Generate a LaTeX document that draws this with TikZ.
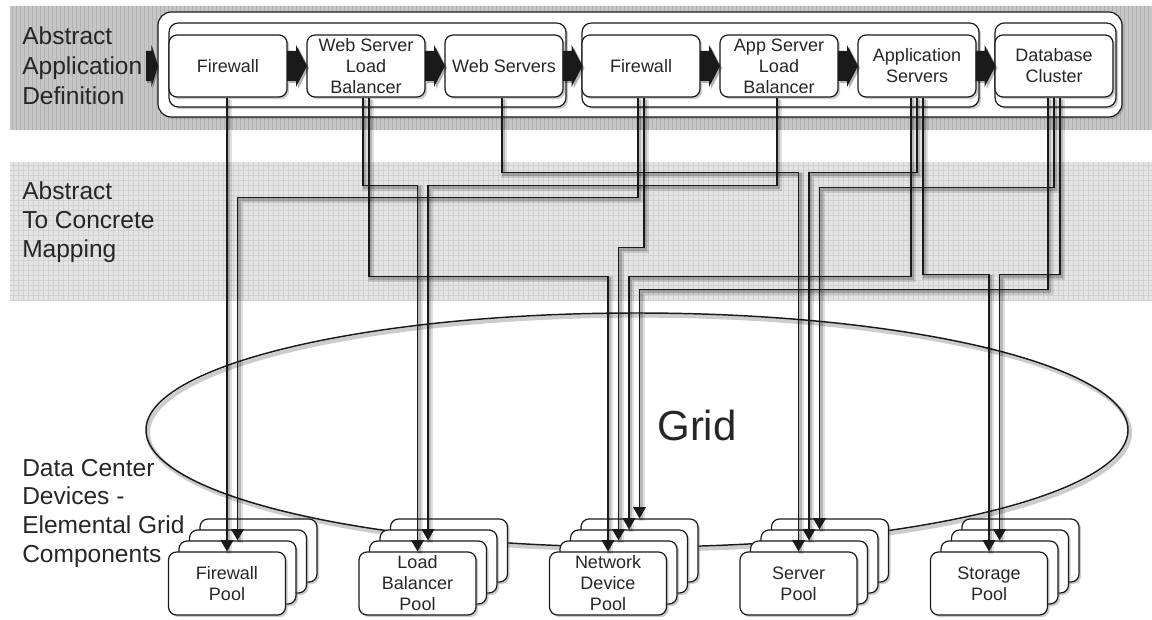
\documentclass[tikz,border=0pt]{standalone}
\usepackage{fontspec}
\setmainfont{Liberation Sans}
\usetikzlibrary{arrows.meta,calc,shadows}

\definecolor{ink}{HTML}{1A1A1A}
\definecolor{txt}{HTML}{262626}
\definecolor{bandA}{HTML}{C6C6C6}
\definecolor{bandAline}{HTML}{B2B2B2}
\definecolor{bandB}{HTML}{E4E4E4}
\definecolor{bandBline}{HTML}{D1D1D1}

\tikzset{
  softshadow/.style={drop shadow={shadow xshift=1.6pt, shadow yshift=-1.6pt, opacity=0.4}},
  appbox/.style={draw=ink, line width=0.9pt, fill=white, rounded corners=6pt,
    minimum width=88.5pt, minimum height=46.5pt, inner sep=0pt, align=center,
    text=txt, font=\fontsize{13.5}{15.75}\selectfont, softshadow},
  stackback/.style={draw=ink, line width=0.9pt, fill=white, rounded corners=7pt,
    inner sep=0pt, softshadow},
  card/.style={appbox, minimum width=87.75pt, minimum height=47.25pt},
  sidelabel/.style={anchor=west, align=left, inner sep=0pt, text=txt},
  conn/.style={draw=ink, line width=1.3pt, -{Triangle[width=9.5pt,length=8.5pt]},
    preaction={draw=black, opacity=0.12, line width=4.5pt, arrows=-,
      transform canvas={shift={(1.6pt,-1.6pt)}}},
    preaction={draw=black, opacity=0.18, line width=2.2pt, arrows=-,
      transform canvas={shift={(1.4pt,-1.4pt)}}}},
  chev/.pic={
    \begin{scope}[shift={(2,2)}]
      \fill[black, opacity=0.3] (-10,-15) -- (-1,-15) -- (-1,-21) -- (10,0)
        -- (-1,21) -- (-1,15) -- (-10,15) -- cycle;
    \end{scope}
    \fill[ink] (-10,-15) -- (-1,-15) -- (-1,-21) -- (10,0)
      -- (-1,21) -- (-1,15) -- (-10,15) -- cycle;
  }
}

% a stack of four pool cards, back to front; the front one carries the text
\newcommand\poolstack[3]{%
  \foreach \k in {3,2,1} {\node[card] (#1\k) at (#2+10.5*\k, 583.5-11*\k) {};}
  \node[card] (#10) at (#2,583.5) {#3};
}

\begin{document}
\begin{tikzpicture}[x=0.75pt, y=-0.75pt]
\useasboundingbox (0,0) rectangle (1152,620);

% background bands
\fill[bandA] (10,6) rectangle (1152,130);
\foreach \i in {12,16,...,1152} \draw[bandAline, line width=0.5pt] (\i,6) -- (\i,130);
\fill[bandB] (10,162) rectangle (1152,300);
\foreach \i in {13,18,...,1152} \draw[bandBline, line width=0.35pt] (\i,162) -- (\i,300);
\foreach \j in {165,170,...,300} \draw[bandBline, line width=0.35pt] (10,\j) -- (1152,\j);

% layer labels
\node[sidelabel, font=\fontsize{18.4}{22.5}\selectfont] (lblA) at (22,66) {Abstract\\Application\\Definition};
\node[sidelabel, font=\fontsize{18.4}{22}\selectfont] (lblB) at (22,222) {Abstract\\To Concrete\\Mapping};
\node[sidelabel, font=\fontsize{18.4}{21.5}\selectfont] (lblC) at (22,513) {Data Center\\Devices -\\Elemental Grid\\Components};

% application definition container and tier groups
\node[stackback, rounded corners=10pt, minimum width=723pt, minimum height=78.75pt] (appdef) at (640,64.5) {};
\node[stackback, minimum width=297.75pt, minimum height=63pt] (grpA) at (367.5,65) {};
\node[stackback, minimum width=297.75pt, minimum height=63pt] (grpB) at (780.5,65) {};
\node[stackback, minimum width=90.75pt, minimum height=63pt] (grpC) at (1055.5,65) {};

% abstract components
\node[appbox] (fw1) at (228,66) {Firewall};
\node[appbox] (wslb) at (366,66) {Web Server\\Load\\Balancer};
\node[appbox] (ws) at (504,66) {Web Servers};
\node[appbox] (fw2) at (641,66) {Firewall};
\node[appbox] (aslb) at (779,66) {App Server\\Load\\Balancer};
\node[appbox] (appsrv) at (917,66) {Application\\Servers};
\node[appbox] (db) at (1054,66) {Database\\Cluster};

% flow chevrons
\pic[xscale=0.6] at (152,66) {chev};
\pic at ($(fw1.east)!0.5!(wslb.west)$) {chev};
\pic at ($(wslb.east)!0.5!(ws.west)$) {chev};
\pic at ($(ws.east)!0.5!(fw2.west)$) {chev};
\pic at ($(fw2.east)!0.5!(aslb.west)$) {chev};
\pic at ($(aslb.east)!0.5!(appsrv.west)$) {chev};
\pic at ($(appsrv.east)!0.5!(db.west)$) {chev};

% the grid
\draw[ink, line width=1.1pt, preaction={draw=black, opacity=0.2, line width=3pt,
  transform canvas={shift={(1.5pt,-2pt)}}}] (637,430) ellipse [x radius=491, y radius=117];
\node[text=txt, font=\fontsize{31.5}{36}\selectfont] (gridlabel) at (697,425) {Grid};

% element pools
\poolstack{pfw}{227}{Firewall\\Pool}
\poolstack{plb}{417.5}{Load\\Balancer\\Pool}
\poolstack{pnd}{608}{Network\\Device\\Pool}
\poolstack{psv}{798.5}{Server\\Pool}
\poolstack{pst}{989}{Storage\\Pool}

% abstract-to-concrete mappings
\draw[conn] ($(fw1.south)+(-1,0)$) -- (pfw0.north);
\draw[conn] ($(wslb.south)+(-3,0)$) -- ++(0,88) -| (plb0.north);
\draw[conn] ($(wslb.south)+(3,0)$) -- ++(0,179) -| (pnd0.north);
\draw[conn] ($(ws.south)+(-2,0)$) -- ++(0,75) -| (psv0.north);
\draw[conn] ($(fw2.south)+(-3,0)$) -- ++(0,100) -| (pfw1.north);
\draw[conn] ($(fw2.south)+(3,0)$) -- ++(0,150) -| (pnd1.north);
\draw[conn] ($(aslb.south)+(-2,0)$) -- ++(0,88) -| (plb1.north);
\draw[conn] (appsrv.south) -- ++(0,75) -| (psv1.north);
\draw[conn] ($(appsrv.south)+(-6,0)$) -- ++(0,179) -| (pnd2.north);
\draw[conn] ($(appsrv.south)+(6,0)$) -- ++(0,177) -| (pst0.north);
\draw[conn] (db.south) -- ++(0,90) -| (psv2.north);
\draw[conn] ($(db.south)+(-6,0)$) -- ++(0,192) -| (pnd3.north);
\draw[conn] ($(db.south)+(6,0)$) -- ++(0,177) -| (pst1.north);
\end{tikzpicture}
\end{document}
